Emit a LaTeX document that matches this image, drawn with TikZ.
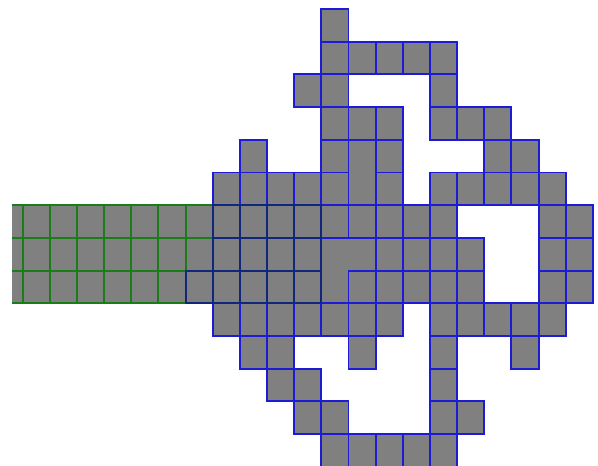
\documentclass[tikz,border=0pt]{standalone}
\definecolor{cellgray}{RGB}{128,128,128}
\definecolor{bl}{RGB}{28,28,215}
\definecolor{gr}{RGB}{25,125,25}
\definecolor{nv}{RGB}{15,40,125}
\tikzset{
  tile/.style={fill=cellgray, draw=bl, line width=1.9pt},
  navytile/.style={draw=nv, line width=1.9pt},
  greenline/.style={draw=gr, line width=2pt}
}
\begin{document}
\begin{tikzpicture}[x=1pt,y=-1pt]
\useasboundingbox (0,0) rectangle (598,466);
\fill[white] (0,0) rectangle (598,466);
\clip (12,0) rectangle (598,466);
\begin{scope}[shift={(22.7pt,-9pt)}, x=27.15pt, y=-32.7pt]
  % green strip
  \fill[cellgray] (-2,6) rectangle (11,9);
  \foreach \c in {-1,...,11} { \draw[greenline] (\c,6) -- (\c,9); }
  \foreach \r in {6,...,9} { \draw[greenline] (-2,\r) -- (11,\r); }
  % blue single cells
  \foreach \r/\cs in {0/{11}, 1/{11,12,13,14,15}, 2/{10,11,15},
      3/{11,12,13,15,16,17}, 4/{8,11,13,17,18},
      5/{7,8,9,10,11,13,15,16,17,18,19},
      6/{7,8,9,10,11,12,13,14,15,19,20},
      7/{7,8,9,10,13,14,15,16,19,20},
      8/{6,7,8,9,10,12,13,14,15,16,19,20},
      9/{7,8,9,10,11,12,13,15,16,17,18,19},
      10/{8,9,12,15,18}, 11/{9,10,15}, 12/{10,11,15,16},
      13/{11,12,13,14,15}} {
    \foreach \c in \cs { \draw[tile] (\c,\r) rectangle ++(1,1); }
  }
  % vertical domino
  \draw[tile] (12,4) rectangle (13,6);
  % L-tromino
  \draw[tile] (11,7) -- (13,7) -- (13,8) -- (12,8) -- (12,9) -- (11,9) -- cycle;
  % overlap of green strip and blue figure
  \foreach \r/\cs in {6/{7,8,9,10}, 7/{7,8,9,10}, 8/{6,7,8,9,10}} {
    \foreach \c in \cs { \draw[navytile] (\c,\r) rectangle ++(1,1); }
  }
\end{scope}
\end{tikzpicture}
\end{document}
